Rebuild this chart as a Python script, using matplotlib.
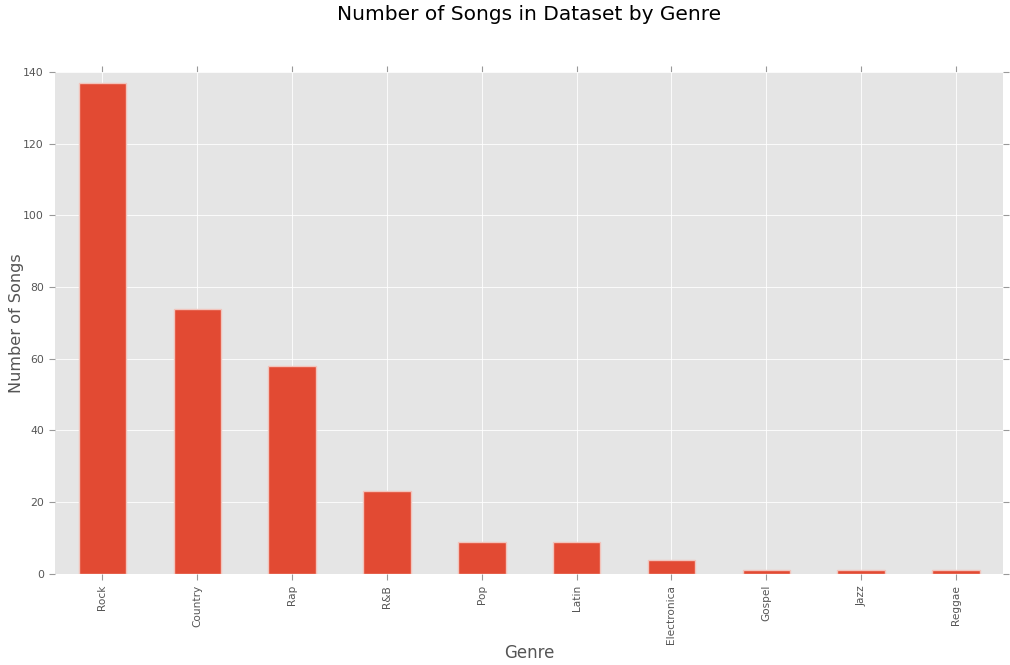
import matplotlib
matplotlib.use("Agg")
import matplotlib.pyplot as plt

plt.style.use("ggplot")

genres = ["Rock", "Country", "Rap", "R&B", "Pop", "Latin", "Electronica", "Gospel", "Jazz", "Reggae"]
counts = [137, 74, 58, 23, 9, 9, 4, 1, 1, 1]

fig = plt.figure(figsize=(10.1, 6.65), dpi=100)
ax = fig.add_axes([0.0545, 0.137, 0.939, 0.755])
x = range(len(genres))
ax.bar(x, counts, width=0.5, color="#E24A33", edgecolor="#F2C4BC", linewidth=1)
ax.set_xlim(-0.5, len(genres) - 0.5)
ax.set_ylim(0, 140)
ax.set_yticks(range(0, 141, 20))
ax.set_xticks(list(x))
ax.set_xticklabels(genres, rotation=90, fontsize=7.6, color="#555555")
ax.tick_params(axis="y", labelsize=7.8, labelcolor="#555555")
ax.tick_params(axis="both", which="both", top=True, right=True, direction="out",
               color="#999999", length=4, pad=4)
ax.set_axisbelow(True)
ax.grid(True, color="white", linewidth=0.6)
for s in ax.spines.values():
    s.set_visible(False)
ax.set_xlabel("Genre", fontsize=12, color="#555555", labelpad=0)
ax.set_ylabel("Number of Songs", fontsize=11.6, color="#555555", labelpad=-1)
fig.suptitle("Number of Songs in Dataset by Genre", fontsize=14.5, x=0.524, y=0.992)
fig.savefig("out.png", dpi=100)
